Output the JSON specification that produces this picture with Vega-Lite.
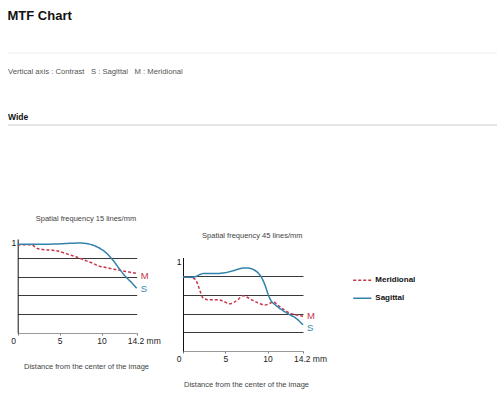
{
  "$schema": "https://vega.github.io/schema/vega-lite/v6.json",
  "padding": {"left": 7, "top": 10, "right": 0, "bottom": 5},
  "config": {"view": {"stroke": null}, "font": "Liberation Sans"},
  "datasets": {
    "f15": [
      {"s": "M", "x": 0, "y": 0.935}, {"s": "M", "x": 1.0, "y": 0.94}, {"s": "M", "x": 1.6, "y": 0.94}, {"s": "M", "x": 2.0, "y": 0.92},
      {"s": "M", "x": 2.3, "y": 0.9}, {"s": "M", "x": 3.0, "y": 0.888}, {"s": "M", "x": 4.0, "y": 0.882}, {"s": "M", "x": 4.6, "y": 0.876},
      {"s": "M", "x": 5.4, "y": 0.855}, {"s": "M", "x": 6.2, "y": 0.832}, {"s": "M", "x": 7.0, "y": 0.809}, {"s": "M", "x": 8.0, "y": 0.775},
      {"s": "M", "x": 9.0, "y": 0.74}, {"s": "M", "x": 9.6, "y": 0.715}, {"s": "M", "x": 10.5, "y": 0.697}, {"s": "M", "x": 11.5, "y": 0.678},
      {"s": "M", "x": 12.5, "y": 0.662}, {"s": "M", "x": 13.3, "y": 0.648}, {"s": "M", "x": 14.2, "y": 0.633},
      {"s": "S", "x": 0, "y": 0.945}, {"s": "S", "x": 2.0, "y": 0.943}, {"s": "S", "x": 4.6, "y": 0.947}, {"s": "S", "x": 6.5, "y": 0.955},
      {"s": "S", "x": 7.4, "y": 0.957}, {"s": "S", "x": 8.2, "y": 0.952}, {"s": "S", "x": 8.8, "y": 0.94}, {"s": "S", "x": 9.5, "y": 0.915},
      {"s": "S", "x": 10.0, "y": 0.89}, {"s": "S", "x": 10.5, "y": 0.857}, {"s": "S", "x": 11.0, "y": 0.812}, {"s": "S", "x": 11.5, "y": 0.76},
      {"s": "S", "x": 12.1, "y": 0.686}, {"s": "S", "x": 12.9, "y": 0.598}, {"s": "S", "x": 13.7, "y": 0.526}, {"s": "S", "x": 14.2, "y": 0.475}
    ],
    "f45": [
      {"s": "M", "x": 0, "y": 0.79}, {"s": "M", "x": 1.0, "y": 0.785}, {"s": "M", "x": 1.5, "y": 0.76}, {"s": "M", "x": 1.8, "y": 0.7},
      {"s": "M", "x": 2.1, "y": 0.62}, {"s": "M", "x": 2.4, "y": 0.565}, {"s": "M", "x": 3.0, "y": 0.548}, {"s": "M", "x": 4.2, "y": 0.548},
      {"s": "M", "x": 4.8, "y": 0.53}, {"s": "M", "x": 5.5, "y": 0.505}, {"s": "M", "x": 6.0, "y": 0.52}, {"s": "M", "x": 6.5, "y": 0.55},
      {"s": "M", "x": 7.1, "y": 0.59}, {"s": "M", "x": 7.6, "y": 0.575}, {"s": "M", "x": 8.2, "y": 0.545}, {"s": "M", "x": 9.0, "y": 0.51},
      {"s": "M", "x": 9.7, "y": 0.492}, {"s": "M", "x": 10.3, "y": 0.51}, {"s": "M", "x": 10.7, "y": 0.525}, {"s": "M", "x": 11.2, "y": 0.49},
      {"s": "M", "x": 12.0, "y": 0.44}, {"s": "M", "x": 12.7, "y": 0.402}, {"s": "M", "x": 13.5, "y": 0.385}, {"s": "M", "x": 14.2, "y": 0.372},
      {"s": "S", "x": 0, "y": 0.79}, {"s": "S", "x": 1.0, "y": 0.788}, {"s": "S", "x": 1.6, "y": 0.8}, {"s": "S", "x": 2.1, "y": 0.822},
      {"s": "S", "x": 2.5, "y": 0.83}, {"s": "S", "x": 4.2, "y": 0.83}, {"s": "S", "x": 5.0, "y": 0.838}, {"s": "S", "x": 5.6, "y": 0.85},
      {"s": "S", "x": 6.2, "y": 0.866}, {"s": "S", "x": 6.8, "y": 0.882}, {"s": "S", "x": 7.3, "y": 0.889}, {"s": "S", "x": 7.9, "y": 0.885},
      {"s": "S", "x": 8.4, "y": 0.868}, {"s": "S", "x": 8.8, "y": 0.843}, {"s": "S", "x": 9.2, "y": 0.8}, {"s": "S", "x": 9.5, "y": 0.75},
      {"s": "S", "x": 9.8, "y": 0.68}, {"s": "S", "x": 10.1, "y": 0.6}, {"s": "S", "x": 10.4, "y": 0.54}, {"s": "S", "x": 10.9, "y": 0.495},
      {"s": "S", "x": 11.7, "y": 0.44}, {"s": "S", "x": 12.5, "y": 0.395}, {"s": "S", "x": 13.3, "y": 0.355}, {"s": "S", "x": 14.2, "y": 0.28}
    ]
  },
  "bounds": "flush",
  "spacing": 114,
  "resolve": {"scale": {"color": "independent", "strokeDash": "independent"}},
  "vconcat": [
    {
      "width": 489,
      "height": 72,
      "title": {"text": "MTF Chart", "anchor": "start", "fontSize": 13, "fontWeight": "bold", "color": "#111111", "baseline": "alphabetic", "offset": 19.5},
      "layer": [
        {"data": {"values": [{}]}, "mark": {"type": "rule", "color": "#ececec", "strokeWidth": 1}, "encoding": {"y": {"datum": 1, "type": "quantitative", "scale": {"domain": [0, 1]}, "axis": null}}},
        {"data": {"values": [{}]}, "mark": {"type": "rule", "color": "#cccccc", "strokeWidth": 1}, "encoding": {"y": {"datum": 0, "type": "quantitative"}}},
        {"data": {"values": [{"t": "Vertical axis : Contrast \u00a0 S : Sagittal \u00a0 M : Meridional"}]}, "mark": {"type": "text", "align": "left", "baseline": "middle", "fontSize": 7.7, "color": "#555555"}, "encoding": {"text": {"field": "t"}, "x": {"datum": 0, "type": "quantitative", "scale": {"domain": [0, 1]}, "axis": null}, "y": {"datum": 0.732, "type": "quantitative"}}},
        {"data": {"values": [{"t": "Wide"}]}, "mark": {"type": "text", "align": "left", "baseline": "middle", "fontSize": 8.5, "fontWeight": "bold", "color": "#111111"}, "encoding": {"text": {"field": "t"}, "x": {"datum": 0, "type": "quantitative"}, "y": {"datum": 0.107, "type": "quantitative"}}}
      ]
    },
    {
      "bounds": "flush",
      "spacing": 46,
      "resolve": {"scale": {"color": "independent", "strokeDash": "independent"}},
      "hconcat": [
        {
          "width": 128.7,
          "height": 94,
          "title": {"text": "Spatial frequency 15 lines/mm", "fontSize": 7.5, "fontWeight": "normal", "color": "#444444", "dx": 13.6, "baseline": "alphabetic", "frame": "group", "offset": 9.8},
          "data": {"name": "f15"},
          "encoding": {
            "x": {"field": "x", "type": "quantitative", "scale": {"domain": [0, 14.2], "range": [9.7, 128.7], "nice": false, "zero": false},
              "axis": {"values": [0, 5, 10, 14.2], "grid": false, "labelFlush": false, "domainColor": "#999999", "tickColor": "#777777", "tickSize": 2, "labelFontSize": 8.5, "labelColor": "#222222", "labelPadding": 1,
                "labelExpr": "datum.value == 14.2 ? '14.2 mm' : datum.label",
                "labelOffset": {"condition": [{"test": "datum.value == 0", "value": -4.5}, {"test": "datum.value == 14.2", "value": 7}], "value": 0},
                "title": "Distance from the center of the image", "titleFontSize": 7.5, "titleFontWeight": "normal", "titleColor": "#444444", "titleX": 78, "titleY": 33, "titleAlign": "center", "titleBaseline": "middle"}},
            "y": {"field": "y", "type": "quantitative", "scale": {"domain": [0, 1]},
              "axis": {"values": [0.2, 0.4, 0.6, 0.8, 1], "offset": -9.7, "grid": true, "gridColor": "#222222", "gridWidth": 0.9,
                "gridOpacity": {"condition": {"test": "datum.value == 1", "value": 0}, "value": 1},
                "labelExpr": "datum.value == 1 ? '1' : ''", "ticks": false, "domainColor": "#111111", "title": null, "labelFontSize": 8.5, "labelColor": "#111111", "labelPadding": 2, "labelOffset": 3.5}},
            "color": {"field": "s", "type": "nominal", "scale": {"domain": ["M", "S"], "range": ["#c8364a", "#3282ab"]}, "legend": null}
          },
          "layer": [
            {"mark": {"type": "line", "strokeWidth": 1.5, "interpolate": "monotone"},
             "encoding": {"strokeDash": {"field": "s", "type": "nominal", "scale": {"domain": ["M", "S"], "range": [[3, 2], [1, 0]]}, "legend": null}}},
            {"transform": [{"filter": "datum.x == 14.2 && datum.s == 'M'"}], "mark": {"type": "text", "align": "left", "baseline": "middle", "dx": 4, "dy": 3, "fontSize": 9.5},
             "encoding": {"text": {"field": "s"}}},
            {"transform": [{"filter": "datum.x == 14.2 && datum.s == 'S'"}], "mark": {"type": "text", "align": "left", "baseline": "middle", "dx": 4, "dy": 1, "fontSize": 9.5},
             "encoding": {"text": {"field": "s"}}}
          ]
        },
        {
          "width": 120,
          "height": 112,
          "title": {"text": "Spatial frequency 45 lines/mm", "fontSize": 7.5, "fontWeight": "normal", "color": "#444444", "dx": 9.3, "baseline": "alphabetic", "frame": "group", "offset": -6.2},
          "data": {"name": "f45"},
          "encoding": {
            "x": {"field": "x", "type": "quantitative", "scale": {"domain": [0, 14.2], "nice": false, "zero": false},
              "axis": {"values": [0, 5, 10, 14.2], "grid": false, "labelFlush": false, "domainColor": "#999999", "tickColor": "#777777", "tickSize": 2, "labelFontSize": 8.5, "labelColor": "#222222", "labelPadding": 1,
                "labelExpr": "datum.value == 14.2 ? '14.2 mm' : datum.label",
                "labelOffset": {"condition": [{"test": "datum.value == 0", "value": -4.5}, {"test": "datum.value == 14.2", "value": 7}], "value": 0},
                "title": "Distance from the center of the image", "titleFontSize": 7.5, "titleFontWeight": "normal", "titleColor": "#444444", "titleX": 63, "titleY": 33, "titleAlign": "center", "titleBaseline": "middle"}},
            "y": {"field": "y", "type": "quantitative", "scale": {"domain": [0, 1], "range": [112, 18.5]},
              "axis": {"values": [0.2, 0.4, 0.6, 0.8, 1], "grid": true, "gridColor": "#222222", "gridWidth": 0.9,
                "gridOpacity": {"condition": {"test": "datum.value == 1", "value": 0}, "value": 1},
                "labelExpr": "datum.value == 1 ? '1' : ''", "ticks": false, "domainColor": "#111111", "title": null, "labelFontSize": 8.5, "labelColor": "#111111", "labelPadding": 2, "labelOffset": 3.5}},
            "color": {"field": "s", "type": "nominal", "scale": {"domain": ["M", "S"], "range": ["#c8364a", "#3282ab"]},
              "legend": {"orient": "none", "legendX": 169.3, "legendY": 31.2, "title": null, "symbolType": "stroke", "symbolSize": 330, "symbolStrokeWidth": 1.5, "labelFontSize": 8, "labelFontWeight": "bold", "labelColor": "#111111", "labelOffset": 3, "rowPadding": 4,
                "labelExpr": "datum.label == 'M' ? 'Meridional' : 'Sagittal'"}}
          },
          "layer": [
            {"mark": {"type": "line", "strokeWidth": 1.5, "interpolate": "monotone"},
             "encoding": {"strokeDash": {"field": "s", "type": "nominal", "scale": {"domain": ["M", "S"], "range": [[3, 2], [1, 0]]},
               "legend": {"orient": "none", "legendX": 169.3, "legendY": 31.2, "title": null, "symbolType": "stroke", "symbolSize": 330, "symbolStrokeWidth": 1.5, "labelFontSize": 8, "labelFontWeight": "bold", "labelColor": "#111111", "labelOffset": 3, "rowPadding": 4,
                 "labelExpr": "datum.label == 'M' ? 'Meridional' : 'Sagittal'"}}}},
            {"transform": [{"filter": "datum.x == 14.2 && datum.s == 'M'"}], "mark": {"type": "text", "align": "left", "baseline": "middle", "dx": 4, "dy": 0, "fontSize": 9.5},
             "encoding": {"text": {"field": "s"}}},
            {"transform": [{"filter": "datum.x == 14.2 && datum.s == 'S'"}], "mark": {"type": "text", "align": "left", "baseline": "middle", "dx": 4, "dy": 3, "fontSize": 9.5},
             "encoding": {"text": {"field": "s"}}}
          ]
        }
      ]
    }
  ]
}
